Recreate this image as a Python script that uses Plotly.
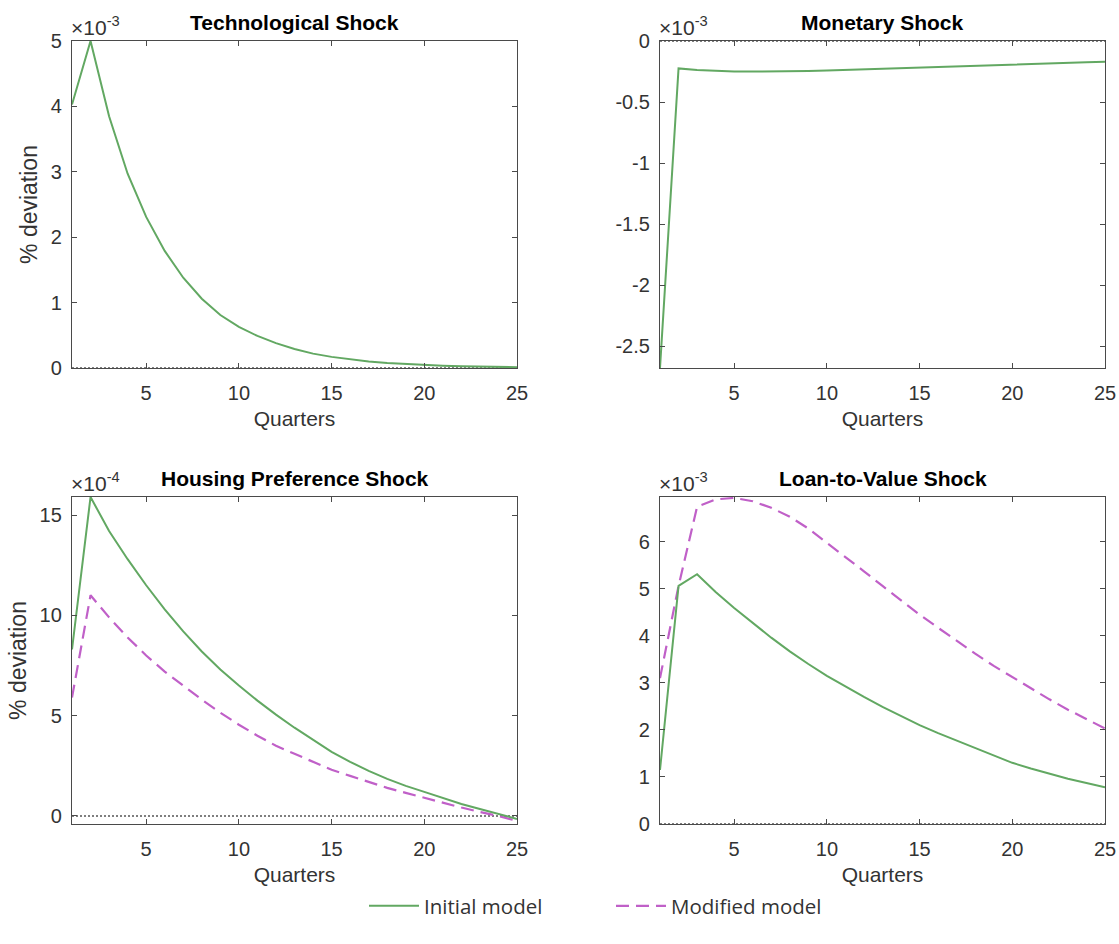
import plotly.graph_objects as go

W, H = 1119, 944

quarters = list(range(1, 26))

# Technological shock (x1e-3)
tech_initial = [4.03, 5.0, 3.85, 2.97, 2.31, 1.79, 1.38, 1.06, 0.81, 0.63, 0.49, 0.38, 0.29,
                0.22, 0.17, 0.13, 0.10, 0.077, 0.06, 0.046, 0.035, 0.027, 0.021, 0.016, 0.012]
# Monetary shock (x1e-3)
mon_initial = [-2.68, -0.225, -0.238, -0.245, -0.249, -0.25, -0.25, -0.248, -0.245, -0.241,
               -0.236, -0.231, -0.226, -0.221, -0.215, -0.21, -0.205, -0.199, -0.194, -0.189,
               -0.185, -0.181, -0.177, -0.174, -0.171]
# Housing preference shock (x1e-4)
house_initial = [8.3, 15.9, 14.2, 12.8, 11.5, 10.3, 9.2, 8.2, 7.3, 6.5, 5.75, 5.05, 4.4, 3.8,
                 3.2, 2.7, 2.25, 1.85, 1.5, 1.2, 0.9, 0.6, 0.35, 0.1, -0.15]
house_modified = [5.9, 11.0, 9.9, 8.9, 8.0, 7.2, 6.5, 5.8, 5.15, 4.55, 4.0, 3.5, 3.1, 2.7,
                  2.3, 2.0, 1.7, 1.4, 1.15, 0.9, 0.65, 0.42, 0.2, 0.0, -0.25]
# Loan-to-value shock (x1e-3)
ltv_initial = [1.15, 5.06, 5.31, 4.93, 4.59, 4.27, 3.96, 3.67, 3.40, 3.15, 2.92, 2.70, 2.49,
               2.29, 2.10, 1.93, 1.77, 1.62, 1.45, 1.30, 1.18, 1.07, 0.96, 0.87, 0.78]
ltv_modified = [3.1, 5.06, 6.74, 6.9, 6.93, 6.86, 6.72, 6.53, 6.28, 5.98, 5.68, 5.37, 5.06,
                4.75, 4.45, 4.17, 3.89, 3.62, 3.36, 3.12, 2.88, 2.65, 2.43, 2.23, 2.03]

titles = ["Technological Shock", "Monetary Shock", "Housing Preference Shock", "Loan-to-Value Shock"]
exponents = ["-3", "-3", "-4", "-3"]
y_ranges = [[0, 5.0], [-2.68, 0], [-0.4, 15.9], [0, 6.95]]
y_ticks = [[0, 1, 2, 3, 4, 5], [-2.5, -2, -1.5, -1, -0.5, 0], [0, 5, 10, 15], [0, 1, 2, 3, 4, 5, 6]]
x_ticks = [5, 10, 15, 20, 25]

GREEN = "#62a862"
MAGENTA = "#c060c8"
AXC = "#4a4a4a"
TXT = "#333333"
FONT = "Liberation Sans, Arial, sans-serif"

# panel pixel boxes: (x0, x1, ytop, ybottom)
boxes = [(72, 517, 41, 368), (660, 1105, 41, 368), (72, 517, 497, 824), (660, 1105, 497, 824)]

fig = go.Figure()

series_initial = [tech_initial, mon_initial, house_initial, ltv_initial]
series_modified = [None, None, house_modified, ltv_modified]

for i in range(4):
    n = "" if i == 0 else str(i + 1)
    xa, ya = "x" + n, "y" + n
    fig.add_trace(go.Scatter(x=[quarters[0], quarters[-1]], y=[0, 0], mode="lines",
                             line=dict(color="black", width=1.2, dash="2px,2px"),
                             showlegend=False, hoverinfo="skip", xaxis=xa, yaxis=ya))
    if series_modified[i] is not None:
        fig.add_trace(go.Scatter(x=quarters, y=series_modified[i], mode="lines",
                                 line=dict(color=MAGENTA, width=2.2, dash="13px,7px"),
                                 name="Modified model", showlegend=(i == 3),
                                 legendrank=2, xaxis=xa, yaxis=ya))
    fig.add_trace(go.Scatter(x=quarters, y=series_initial[i], mode="lines",
                             line=dict(color=GREEN, width=2),
                             name="Initial model", showlegend=(i == 3),
                             legendrank=1, xaxis=xa, yaxis=ya))

    x0, x1, yt, yb = boxes[i]
    xdom = [x0 / W, x1 / W]
    ydom = [1 - yb / H, 1 - yt / H]
    common = dict(showline=True, linecolor=AXC, linewidth=1.3, mirror="ticks",
                  ticks="inside", ticklen=5, tickcolor=AXC, showgrid=False, zeroline=False,
                  automargin=False,
                  tickfont=dict(family=FONT, size=20, color=TXT))
    fig.layout["xaxis" + n] = dict(domain=xdom, range=[1, 25], tickvals=x_ticks,
                                    ticktext=[str(t) for t in x_ticks], anchor=ya,
                                    ticklabelstandoff=7,
                                    title=dict(text="Quarters", standoff=8,
                                               font=dict(family=FONT, size=21, color=TXT)),
                                    **common)
    ydict = dict(domain=ydom, range=y_ranges[i], tickvals=y_ticks[i],
                 ticktext=["%g" % t for t in y_ticks[i]], anchor=xa,
                 ticklabelstandoff=5, **common)
    if i in (0, 2):
        ydict["title"] = dict(text="% deviation", standoff=6,
                              font=dict(family=FONT, size=23, color=TXT))
    fig.layout["yaxis" + n] = ydict

    fig.add_annotation(x=(x0 + x1) / 2 / W, y=1 - (yt - 19) / H, xref="paper", yref="paper",
                       text="<b>%s</b>" % titles[i], showarrow=False,
                       font=dict(family=FONT, size=21, color="black"),
                       xanchor="center", yanchor="middle")
    fig.add_annotation(x=(x0 - 2) / W, y=1 - (yt - 1) / H, xref="paper", yref="paper",
                       text="×10<sup>%s</sup>" % exponents[i], showarrow=False,
                       font=dict(family=FONT, size=21, color=TXT),
                       xanchor="left", yanchor="bottom", borderpad=0)

fig.update_layout(
    width=W, height=H,
    margin=dict(l=0, r=0, t=0, b=0, autoexpand=False),
    paper_bgcolor="white", plot_bgcolor="white",
    showlegend=True,
    legend=dict(orientation="h", x=364 / W, xanchor="left", y=1 - 906 / H, yanchor="middle",
                font=dict(family="Open Sans, sans-serif", size=20.5, color=TXT),
                itemwidth=50, entrywidth=182),
)

fig.write_html("out.html")
